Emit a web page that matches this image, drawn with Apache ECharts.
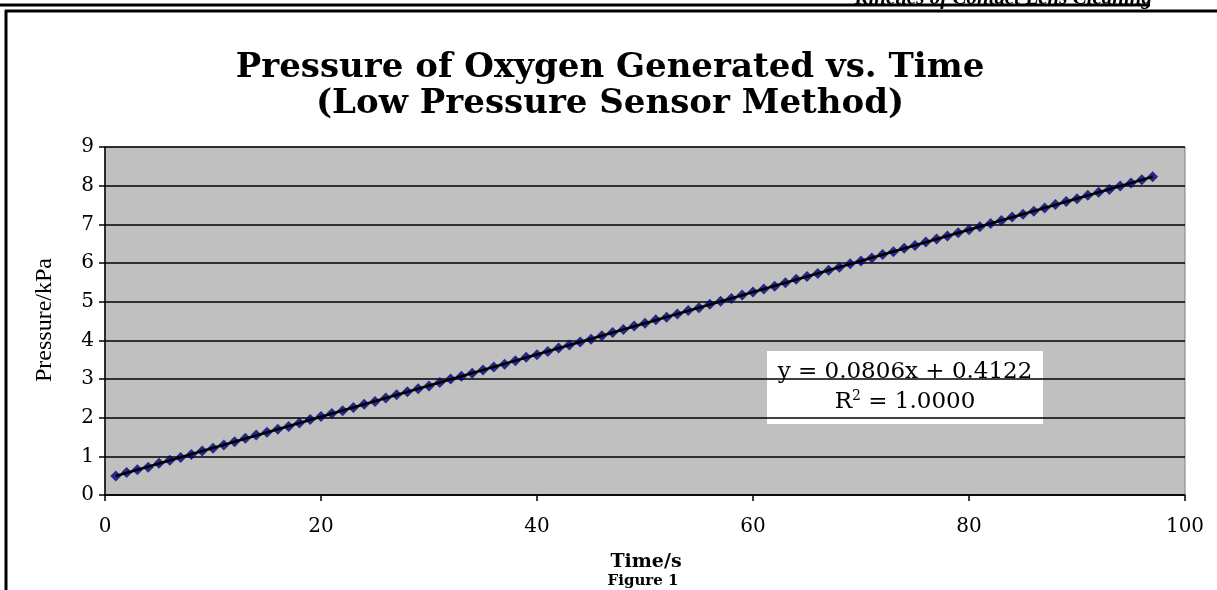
<!DOCTYPE html>
<html>
<head>
<meta charset="utf-8">
<title>Pressure of Oxygen Generated vs. Time</title>
<script src="https://cdn.jsdelivr.net/npm/echarts@6/dist/echarts.min.js"></script>
<style>
  html, body { margin: 0; padding: 0; background: #fff; }
  #chart { width: 1217px; height: 590px; }
</style>
</head>
<body>
<div id="chart"></div>
<script>
// time (s) and pressure (kPa)
const times = [
  1, 2, 3, 4, 5, 6, 7, 8, 9, 10, 11, 12, 13, 14, 15, 16, 17, 18, 19, 20,
  21, 22, 23, 24, 25, 26, 27, 28, 29, 30, 31, 32, 33, 34, 35, 36, 37, 38, 39, 40,
  41, 42, 43, 44, 45, 46, 47, 48, 49, 50, 51, 52, 53, 54, 55, 56, 57, 58, 59, 60,
  61, 62, 63, 64, 65, 66, 67, 68, 69, 70, 71, 72, 73, 74, 75, 76, 77, 78, 79, 80,
  81, 82, 83, 84, 85, 86, 87, 88, 89, 90, 91, 92, 93, 94, 95, 96, 97
]
const pressures = [
  0.49, 0.58, 0.65, 0.72, 0.82, 0.90, 0.97, 1.05, 1.14, 1.21, 1.29, 1.38, 1.47, 1.55, 1.62, 1.70, 1.77, 1.86, 1.95, 2.03,
  2.11, 2.18, 2.26, 2.35, 2.42, 2.51, 2.59, 2.67, 2.75, 2.82, 2.91, 3.00, 3.07, 3.15, 3.23, 3.31, 3.38, 3.47, 3.56, 3.63,
  3.71, 3.80, 3.88, 3.96, 4.03, 4.12, 4.20, 4.28, 4.37, 4.44, 4.53, 4.60, 4.68, 4.77, 4.84, 4.93, 5.01, 5.08, 5.17, 5.25,
  5.33, 5.40, 5.49, 5.58, 5.65, 5.73, 5.81, 5.89, 5.98, 6.05, 6.13, 6.22, 6.29, 6.38, 6.45, 6.54, 6.62, 6.70, 6.78, 6.86,
  6.94, 7.02, 7.10, 7.19, 7.26, 7.34, 7.42, 7.51, 7.59, 7.66, 7.75, 7.83, 7.90, 7.99, 8.07, 8.15, 8.23
]
const equationText = 'y = 0.0806x + 0.4122'
const r2Text = '1.0000'

const points = times.map((t, i) => [t, pressures[i]])

// least squares trend line from the data
const n = times.length
const mx = times.reduce((a, b) => a + b, 0) / n
const my = pressures.reduce((a, b) => a + b, 0) / n
let sxy = 0, sxx = 0
times.forEach((t, i) => { sxy += (t - mx) * (pressures[i] - my); sxx += (t - mx) * (t - mx) })
const slope = sxy / sxx
const icpt = my - slope * mx
const tMin = Math.min(...times), tMax = Math.max(...times)
const trend = [[tMin, icpt + slope * tMin], [tMax, icpt + slope * tMax]]

const serif = '"Liberation Serif", serif'
const wide = '"DejaVu Serif", serif'
const chart = echarts.init(document.getElementById('chart'))

const option = {
  backgroundColor: '#ffffff',
  animation: false,
  grid: {
    left: 105, right: 32, top: 147, bottom: 95,
    show: true, backgroundColor: '#c0c0c0', borderColor: '#808080', borderWidth: 1
  },
  xAxis: {
    type: 'value', min: 0, max: 100, interval: 20,
    axisLine: { show: true, onZero: false, lineStyle: { color: '#000', width: 1.5 } },
    axisTick: { show: true, length: 6, lineStyle: { color: '#000', width: 1.5 } },
    axisLabel: { fontFamily: wide, fontSize: 20, color: '#000', margin: 22 },
    splitLine: { show: false }
  },
  yAxis: {
    type: 'value', min: 0, max: 9, interval: 1,
    axisLine: { show: true, lineStyle: { color: '#000', width: 1.5 } },
    axisTick: { show: true, length: 6, lineStyle: { color: '#000', width: 1.5 } },
    axisLabel: { fontFamily: wide, fontSize: 20, color: '#000', margin: 11 },
    splitLine: { show: true, lineStyle: { color: '#000', width: 1.5 } }
  },
  series: [
    {
      type: 'scatter',
      data: points,
      symbol: 'diamond',
      symbolSize: 11,
      itemStyle: { color: '#000080' },
      z: 2
    },
    {
      type: 'line',
      data: trend,
      showSymbol: false,
      lineStyle: { color: '#000', width: 2.5 },
      z: 3
    }
  ],
  graphic: [
    // page frame
    { type: 'line', shape: { x1: 0, y1: 5, x2: 1150, y2: 5 }, style: { stroke: '#000', lineWidth: 3 } },
    { type: 'line', shape: { x1: 5, y1: 11, x2: 1217, y2: 11 }, style: { stroke: '#000', lineWidth: 3 } },
    { type: 'line', shape: { x1: 6, y1: 10, x2: 6, y2: 590 }, style: { stroke: '#000', lineWidth: 3 } },
    {
      type: 'text', right: 65, top: -12,
      style: { text: 'Kinetics of Contact Lens Cleaning', font: 'italic bold 21px ' + serif, fill: '#000' }
    },
    // title
    {
      type: 'text', x: 610, y: 68,
      style: {
        text: 'Pressure of Oxygen Generated vs. Time',
        font: 'bold 34px ' + wide, fill: '#000', align: 'center', verticalAlign: 'middle'
      }
    },
    {
      type: 'text', x: 610, y: 104,
      style: {
        text: '(Low Pressure Sensor Method)',
        font: 'bold 34px ' + wide, fill: '#000', align: 'center', verticalAlign: 'middle'
      }
    },
    // axis names
    {
      type: 'text', x: 45, y: 320, rotation: Math.PI / 2,
      style: { text: 'Pressure/kPa', font: '24px ' + serif, fill: '#000', align: 'center', verticalAlign: 'middle' }
    },
    {
      type: 'text', x: 646, y: 562,
      style: { text: 'Time/s', font: 'bold 19px ' + wide, fill: '#000', align: 'center', verticalAlign: 'middle' }
    },
    {
      type: 'text', x: 643, y: 581,
      style: { text: 'Figure 1', font: 'bold 15px ' + wide, fill: '#000', align: 'center', verticalAlign: 'middle' }
    },
    // equation box
    {
      type: 'rect', shape: { x: 767, y: 351, width: 276, height: 73 },
      style: { fill: '#fff' }
    },
    {
      type: 'text', x: 905, y: 372,
      style: { text: equationText, font: '23px ' + wide, fill: '#000', align: 'center', verticalAlign: 'middle' }
    },
    {
      type: 'text', x: 905, y: 402,
      style: {
        text: '{r|R}{s|2}{r| = ' + r2Text + '}',
        align: 'center', verticalAlign: 'middle',
        rich: {
          r: { font: '23px ' + wide, fill: '#000' },
          s: { font: '14px ' + wide, fill: '#000', verticalAlign: 'top', padding: [0, 0, 12, 0] }
        }
      }
    }
  ]
}

chart.setOption(option)
window.addEventListener('resize', () => chart.resize())
</script>
</body>
</html>
